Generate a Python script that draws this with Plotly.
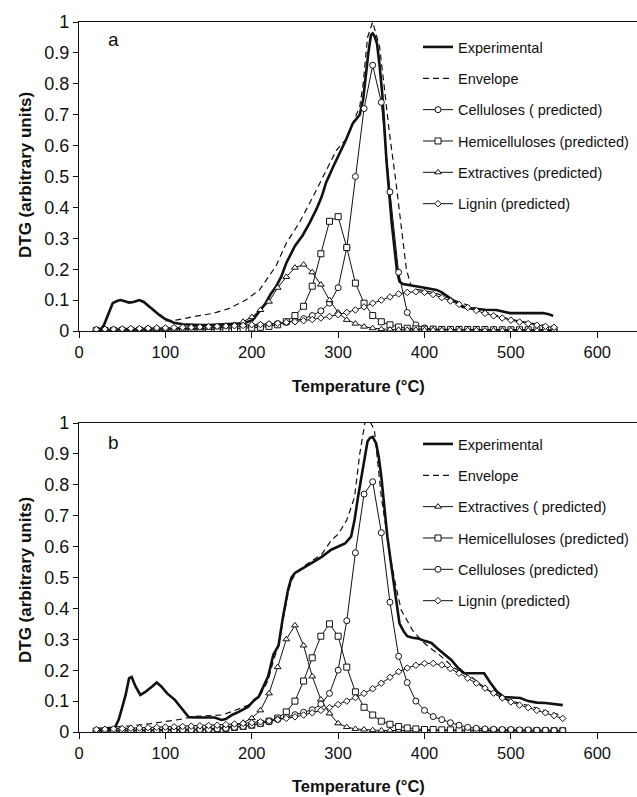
import plotly.graph_objects as go

# ---------------- Panel a data ----------------
T_comp_a = list(range(20, 551, 10))
cel_a = [0.003, 0.003, 0.003, 0.004, 0.004, 0.005, 0.005, 0.006, 0.006, 0.007,
         0.007, 0.008, 0.008, 0.009, 0.010, 0.011, 0.012, 0.014, 0.016, 0.018,
         0.020, 0.024, 0.028, 0.033, 0.040, 0.050, 0.065, 0.090, 0.140, 0.270,
         0.500, 0.720, 0.860, 0.740, 0.450, 0.190, 0.060, 0.020, 0.010, 0.006,
         0.005, 0.004, 0.004, 0.004, 0.004, 0.004, 0.004, 0.004, 0.003, 0.003,
         0.003, 0.003, 0.003, 0.003]
hemi_a = [0.002, 0.002, 0.002, 0.002, 0.002, 0.002, 0.003, 0.003, 0.003, 0.003,
          0.003, 0.004, 0.004, 0.004, 0.005, 0.006, 0.007, 0.008, 0.010, 0.012,
          0.015, 0.020, 0.030, 0.050, 0.080, 0.145, 0.250, 0.355, 0.370, 0.270,
          0.155, 0.090, 0.050, 0.030, 0.020, 0.013, 0.009, 0.007, 0.006, 0.006,
          0.005, 0.005, 0.005, 0.005, 0.005, 0.005, 0.004, 0.004, 0.004, 0.004,
          0.004, 0.004, 0.004, 0.004]
extr_a = [0.004, 0.005, 0.005, 0.005, 0.006, 0.006, 0.006, 0.007, 0.007, 0.008,
          0.008, 0.009, 0.009, 0.010, 0.012, 0.015, 0.020, 0.030, 0.045, 0.068,
          0.095, 0.140, 0.175, 0.205, 0.215, 0.190, 0.150, 0.100, 0.060, 0.036,
          0.024, 0.014, 0.009, 0.006, 0.005, 0.004, 0.004, 0.004, 0.003, 0.003,
          0.003, 0.003, 0.003, 0.003, 0.003, 0.002, 0.002, 0.002, 0.002, 0.002,
          0.002, 0.002, 0.002, 0.002]
lig_a = [0.005, 0.006, 0.006, 0.007, 0.008, 0.008, 0.009, 0.010, 0.010, 0.011,
         0.012, 0.012, 0.013, 0.014, 0.015, 0.016, 0.017, 0.018, 0.020, 0.021,
         0.023, 0.025, 0.028, 0.030, 0.033, 0.037, 0.042, 0.047, 0.053, 0.060,
         0.068, 0.078, 0.090, 0.100, 0.110, 0.120, 0.125, 0.127, 0.125, 0.118,
         0.108, 0.097, 0.086, 0.076, 0.066, 0.057, 0.049, 0.042, 0.035, 0.029,
         0.024, 0.019, 0.015, 0.012]

T_exp_a = [20, 25, 29, 33, 36, 39, 44, 48, 53, 58, 63, 70, 75, 81, 87, 93, 99, 104,
           110, 120, 130, 140, 150, 160, 170, 180, 190, 201, 208, 216, 222, 228,
           234, 240, 250, 259, 267, 275, 281, 286, 294, 302, 309, 317, 325, 329,
           332, 335, 338, 340, 342, 345, 348, 351, 356, 362, 368, 371, 375, 383,
           390, 400, 410, 414, 420, 430, 440, 444, 450, 460, 470, 483, 490, 499,
           510, 520, 530, 537, 544, 549]
exp_a = [0.005, 0.005, 0.020, 0.050, 0.070, 0.090, 0.097, 0.100, 0.096, 0.092,
         0.094, 0.100, 0.094, 0.079, 0.066, 0.052, 0.040, 0.033, 0.027, 0.022,
         0.020, 0.019, 0.019, 0.020, 0.021, 0.022, 0.025, 0.035, 0.060, 0.090,
         0.120, 0.143, 0.175, 0.220, 0.275, 0.310, 0.350, 0.395, 0.435, 0.480,
         0.530, 0.575, 0.618, 0.672, 0.700, 0.750, 0.830, 0.900, 0.958, 0.963,
         0.955, 0.930, 0.860, 0.770, 0.550, 0.350, 0.197, 0.160, 0.152, 0.149,
         0.145, 0.140, 0.135, 0.133, 0.125, 0.105, 0.085, 0.078, 0.074, 0.071,
         0.069, 0.068, 0.063, 0.058, 0.058, 0.058, 0.058, 0.058, 0.054, 0.049]

T_env_a = [100, 112, 130, 155, 174, 193, 209, 220, 228, 240, 255, 271, 286, 298,
           309, 318, 325, 329, 334, 340, 348, 353, 359, 367, 373, 379, 384, 390,
           400, 410, 420, 430, 440, 450, 460, 470, 480, 490, 500, 510, 520, 530,
           540, 550]
env_a = [0.033, 0.035, 0.045, 0.057, 0.073, 0.100, 0.133, 0.180, 0.210, 0.285,
         0.350, 0.435, 0.520, 0.585, 0.620, 0.680, 0.726, 0.800, 0.950, 1.000,
         0.920, 0.800, 0.650, 0.480, 0.340, 0.200, 0.150, 0.135, 0.130, 0.125,
         0.115, 0.105, 0.095, 0.085, 0.073, 0.062, 0.053, 0.045, 0.038, 0.032,
         0.027, 0.022, 0.018, 0.015]

# ---------------- Panel b data ----------------
T_comp_b = list(range(20, 561, 10))
cel_b = [0.003, 0.004, 0.004, 0.004, 0.005, 0.005, 0.005, 0.006, 0.006, 0.006,
         0.007, 0.007, 0.008, 0.008, 0.010, 0.012, 0.015, 0.018, 0.022, 0.027,
         0.033, 0.040, 0.048, 0.056, 0.064, 0.072, 0.090, 0.125, 0.200, 0.360,
         0.580, 0.770, 0.810, 0.645, 0.420, 0.245, 0.160, 0.100, 0.070, 0.050,
         0.040, 0.030, 0.022, 0.015, 0.012, 0.010, 0.009, 0.008, 0.008, 0.007,
         0.007, 0.006, 0.006, 0.005, 0.005]
hemi_b = [0.003, 0.003, 0.003, 0.004, 0.004, 0.004, 0.005, 0.005, 0.006, 0.006,
          0.007, 0.007, 0.008, 0.008, 0.010, 0.012, 0.015, 0.018, 0.022, 0.028,
          0.035, 0.045, 0.065, 0.100, 0.165, 0.240, 0.310, 0.350, 0.310, 0.210,
          0.130, 0.080, 0.055, 0.035, 0.025, 0.018, 0.013, 0.010, 0.008, 0.008,
          0.007, 0.007, 0.006, 0.006, 0.006, 0.005, 0.005, 0.005, 0.005, 0.004,
          0.004, 0.004, 0.004, 0.004, 0.004]
extr_b = [0.005, 0.005, 0.006, 0.006, 0.006, 0.007, 0.007, 0.007, 0.008, 0.008,
          0.009, 0.009, 0.010, 0.010, 0.012, 0.015, 0.020, 0.030, 0.045, 0.070,
          0.125, 0.210, 0.300, 0.345, 0.280, 0.180, 0.105, 0.060, 0.028, 0.016,
          0.010, 0.008, 0.006, 0.005, 0.005, 0.005, 0.004, 0.004, 0.004, 0.004,
          0.004, 0.004, 0.004, 0.003, 0.003, 0.003, 0.003, 0.003, 0.003, 0.003,
          0.003, 0.003, 0.003, 0.003, 0.003]
lig_b = [0.008, 0.009, 0.010, 0.011, 0.012, 0.013, 0.014, 0.015, 0.016, 0.017,
         0.018, 0.019, 0.020, 0.021, 0.022, 0.024, 0.026, 0.028, 0.030, 0.033,
         0.036, 0.040, 0.044, 0.049, 0.055, 0.062, 0.070, 0.079, 0.089, 0.100,
         0.111, 0.125, 0.140, 0.158, 0.177, 0.195, 0.207, 0.216, 0.222, 0.222,
         0.217, 0.205, 0.190, 0.174, 0.158, 0.142, 0.126, 0.110, 0.097, 0.087,
         0.079, 0.070, 0.062, 0.053, 0.044]

T_exp_b = [20, 30, 38, 42, 46, 50, 54, 58, 61, 65, 71, 76, 80, 85, 90, 95, 102,
           107, 111, 115, 119, 123, 127, 135, 145, 157, 165, 170, 177, 185, 196,
           203, 208, 214, 219, 225, 231, 236, 242, 246, 250, 256, 262, 270, 281,
           292, 300, 308, 315, 319, 323, 327, 331, 334, 337, 340, 344, 347, 350,
           354, 357, 361, 365, 368, 371, 376, 380, 386, 392, 400, 408, 415, 423,
           431, 438, 446, 455, 462, 469, 476, 484, 492, 500, 511, 520, 530, 540,
           550, 560]
exp_b = [0.005, 0.007, 0.010, 0.017, 0.040, 0.080, 0.120, 0.174, 0.178, 0.150,
         0.120, 0.128, 0.136, 0.148, 0.160, 0.148, 0.125, 0.113, 0.104, 0.090,
         0.077, 0.062, 0.048, 0.047, 0.048, 0.047, 0.039, 0.042, 0.055, 0.065,
         0.082, 0.104, 0.114, 0.150, 0.180, 0.250, 0.280, 0.370, 0.460, 0.500,
         0.515, 0.525, 0.535, 0.550, 0.567, 0.590, 0.600, 0.610, 0.632, 0.686,
         0.760, 0.826, 0.900, 0.940, 0.952, 0.955, 0.934, 0.890, 0.826, 0.720,
         0.632, 0.550, 0.470, 0.400, 0.352, 0.325, 0.310, 0.305, 0.303, 0.295,
         0.288, 0.270, 0.250, 0.233, 0.210, 0.190, 0.190, 0.190, 0.190, 0.160,
         0.130, 0.113, 0.112, 0.110, 0.100, 0.095, 0.094, 0.090, 0.087]

T_env_b = [20, 40, 60, 80, 100, 120, 131, 150, 165, 177, 196, 203, 210, 219, 225,
           231, 236, 242, 246, 250, 256, 262, 270, 281, 292, 300, 310, 319, 325,
           331, 336, 342, 350, 355, 361, 367, 373, 380, 386, 396, 405, 415, 425,
           435, 445, 454, 463, 473, 482, 492, 501, 511, 521, 531, 541, 550, 557]
env_b = [0.012, 0.015, 0.020, 0.026, 0.033, 0.042, 0.050, 0.052, 0.055, 0.066,
         0.087, 0.100, 0.120, 0.168, 0.230, 0.280, 0.360, 0.450, 0.490, 0.510,
         0.525, 0.540, 0.555, 0.575, 0.620, 0.640, 0.686, 0.760, 0.900, 1.000,
         1.010, 0.977, 0.760, 0.670, 0.557, 0.470, 0.395, 0.360, 0.330, 0.298,
         0.275, 0.255, 0.230, 0.206, 0.190, 0.179, 0.158, 0.136, 0.122, 0.109,
         0.100, 0.093, 0.085, 0.077, 0.068, 0.060, 0.055]

x_ticks = [0, 100, 200, 300, 400, 500, 600]
y_ticks = [0, 0.1, 0.2, 0.3, 0.4, 0.5, 0.6, 0.7, 0.8, 0.9, 1]
y_tick_text = ["0", "0.1", "0.2", "0.3", "0.4", "0.5", "0.6", "0.7", "0.8", "0.9", "1"]

names_a = ["Experimental", "Envelope", "Celluloses ( predicted)",
           "Hemicelluloses (predicted)", "Extractives (predicted)", "Lignin (predicted)"]
names_b = ["Experimental", "Envelope", "Extractives ( predicted)",
           "Hemicelluloses (predicted)", "Celluloses (predicted)", "Lignin (predicted)"]

for a, b in [(T_exp_a, exp_a), (T_env_a, env_a), (T_exp_b, exp_b), (T_env_b, env_b)]:
    assert len(a) == len(b)
for arr in [cel_a, hemi_a, extr_a, lig_a]:
    assert len(arr) == len(T_comp_a)
for arr in [cel_b, hemi_b, extr_b, lig_b]:
    assert len(arr) == len(T_comp_b)

FONT = "Liberation Sans, Arial, sans-serif"
INK = "#111111"

fig = go.Figure()


def comp(x, y, name, symbol, size, xa, ya, leg, grp):
    return go.Scatter(
        x=x, y=y, name=name, mode="lines+markers",
        line=dict(color=INK, width=1),
        marker=dict(symbol=symbol, size=size, color="white",
                    line=dict(color=INK, width=1)),
        xaxis=xa, yaxis=ya, legend=leg, legendgroup=grp)


def panel(T_exp, exp, T_env, env, T_comp, comps, names, xa, ya, leg, tag):
    fig.add_trace(go.Scatter(x=T_exp, y=exp, name=names[0], mode="lines",
                             line=dict(color=INK, width=2.6),
                             xaxis=xa, yaxis=ya, legend=leg, legendgroup=tag + "0"))
    fig.add_trace(go.Scatter(x=T_env, y=env, name=names[1], mode="lines",
                             line=dict(color=INK, width=1.2, dash="6px,4px"),
                             xaxis=xa, yaxis=ya, legend=leg, legendgroup=tag + "1"))
    for i, (vals, sym, sz) in enumerate(comps):
        fig.add_trace(comp(T_comp, vals, names[i + 2], sym, sz, xa, ya, leg, tag + str(i + 2)))


panel(T_exp_a, exp_a, T_env_a, env_a, T_comp_a,
      [(cel_a, "circle", 6), (hemi_a, "square", 6),
       (extr_a, "triangle-up", 6), (lig_a, "diamond", 5)],
      names_a, "x", "y", "legend", "a")
panel(T_exp_b, exp_b, T_env_b, env_b, T_comp_b,
      [(extr_b, "triangle-up", 6), (hemi_b, "square", 6),
       (cel_b, "circle", 6), (lig_b, "diamond", 5)],
      names_b, "x2", "y2", "legend2", "b")

W, H = 637, 797
L, R, T, B = 79, 0, 22, 65
ph = H - T - B
top_dom = [(732 - 331) / ph, 1.0]
bot_dom = [0.0, (732 - 423) / ph]

xcommon = dict(range=[0, 646], tickvals=x_ticks, ticks="outside", ticklen=6,
               tickwidth=1.3, tickcolor=INK, showline=True, linecolor=INK,
               linewidth=1.3, mirror=True, showgrid=False, zeroline=False,
               tickfont=dict(family=FONT, size=16.5, color=INK))
ycommon = dict(range=[0, 1], tickvals=y_ticks, ticktext=y_tick_text, ticks="outside",
               ticklen=5, tickwidth=1.3, tickcolor=INK, showline=True, linecolor=INK,
               linewidth=1.3, showgrid=False, zeroline=False,
               tickfont=dict(family=FONT, size=18, color=INK))

legcommon = dict(font=dict(family=FONT, size=14.5, color=INK), bgcolor="rgba(0,0,0,0)",
                 borderwidth=0, tracegroupgap=9.5, itemwidth=30,
                 xanchor="left", yanchor="top")


def py2paper(py):
    return (732 - py) / ph


def px2paper(px):
    return (px - L) / (W - L - R)


fig.update_layout(
    width=W, height=H, margin=dict(l=L, r=R, t=T, b=B),
    paper_bgcolor="white", plot_bgcolor="white",
    font=dict(family=FONT, color=INK),
    xaxis=dict(domain=[0, 1], anchor="y", **xcommon),
    yaxis=dict(domain=top_dom, anchor="x", **ycommon),
    xaxis2=dict(domain=[0, 1], anchor="y2", **xcommon),
    yaxis2=dict(domain=bot_dom, anchor="x2", **ycommon),
    legend=dict(x=px2paper(418), y=py2paper(31), **legcommon),
    legend2=dict(x=px2paper(418), y=py2paper(428), **legcommon),
    showlegend=True,
)

ann = []
for label, py in [("a", 40), ("b", 442)]:
    ann.append(dict(text=label, x=px2paper(113), y=py2paper(py), xref="paper", yref="paper",
                    xanchor="center", yanchor="middle",
                    showarrow=False, font=dict(family=FONT, size=19, color=INK)))
for py in [175, 580]:
    ann.append(dict(text="<b>DTG (arbitrary units)</b>", x=px2paper(25), y=py2paper(py),
                    xref="paper", yref="paper", xanchor="center", yanchor="middle",
                    showarrow=False, textangle=-90,
                    font=dict(family=FONT, size=17, color=INK)))
for py in [386, 786]:
    ann.append(dict(text="<b>Temperature (°C)</b>", x=0.5, y=py2paper(py),
                    xref="paper", yref="paper", xanchor="center", yanchor="middle",
                    showarrow=False,
                    font=dict(family=FONT, size=16.5, color=INK)))
fig.update_layout(annotations=ann)

fig.write_html("out.html")
